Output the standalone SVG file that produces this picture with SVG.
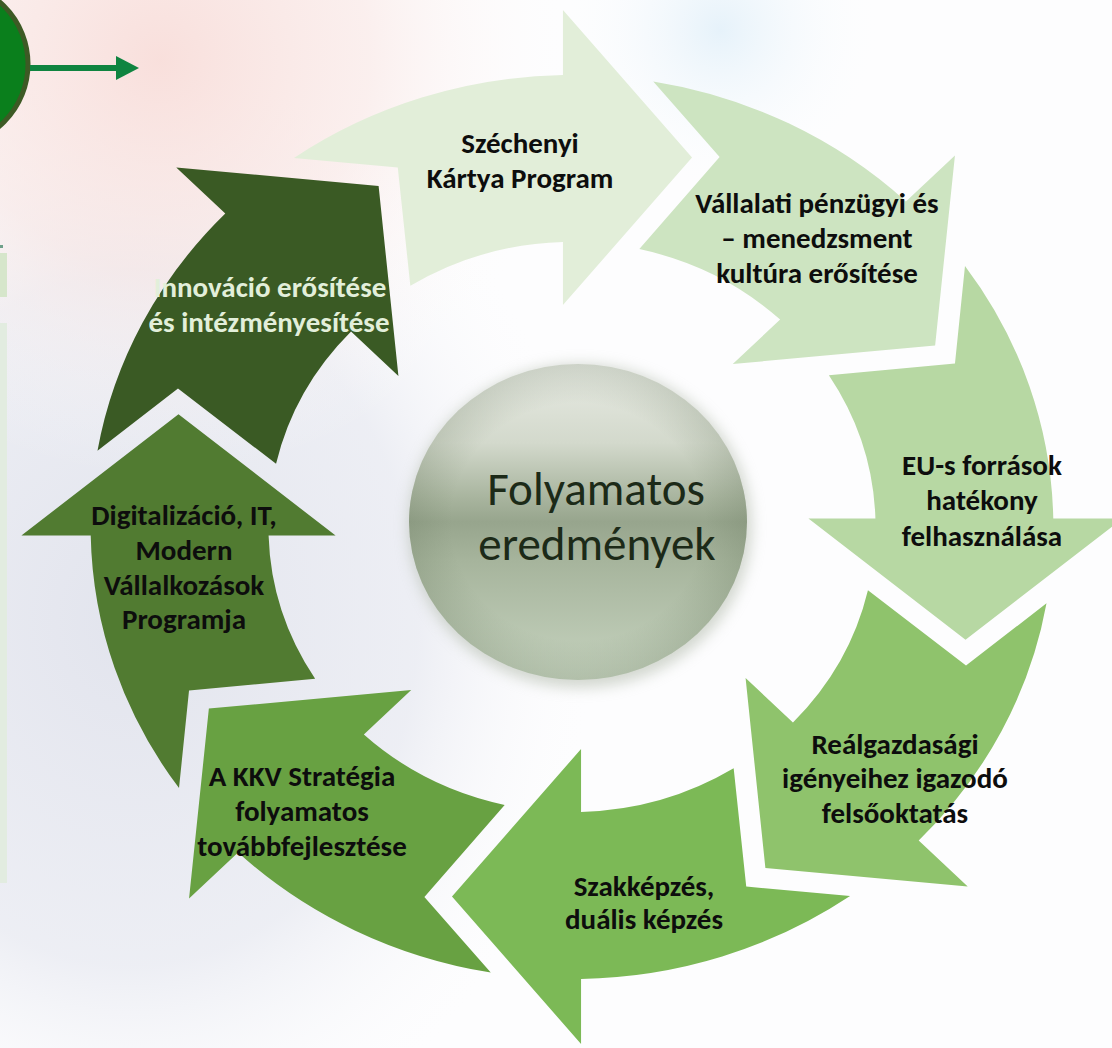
<svg xmlns="http://www.w3.org/2000/svg" xmlns:xlink="http://www.w3.org/1999/xlink" width="1112" height="1048" viewBox="0 0 1112 1048">
  <defs>
    <style>
      .lbl { font-family: Carlito, Calibri, Lato, "Liberation Sans", sans-serif; font-weight: 700; font-size: 29px; fill: #0d0d0d; text-anchor: middle; }
      .lbl-light { fill: #e2efda; }
      .center-txt { font-family: Carlito, Calibri, Lato, "Liberation Sans", sans-serif; font-weight: 400; font-size: 47px; fill: #1c2a18; text-anchor: middle; }
    </style>
    <path id="arrowShape" d="M -261.1 -369.0 A 452 452 0 0 1 -8.5 -451.9 L -8.5 -517 L 112.7 -369.5 L -8.5 -222 L -8.5 -284.9 A 285 285 0 0 0 -151.8 -241.2 L -163.6 -359.6 Z"/>
    <radialGradient id="bgPink" cx="160" cy="60" r="420" gradientUnits="userSpaceOnUse">
      <stop offset="0" stop-color="#f8dcd8" stop-opacity="0.9"/>
      <stop offset="0.5" stop-color="#f9e4e1" stop-opacity="0.55"/>
      <stop offset="1" stop-color="#ffffff" stop-opacity="0"/>
    </radialGradient>
    <radialGradient id="bgLav" cx="130" cy="620" r="480" gradientUnits="userSpaceOnUse" gradientTransform="translate(130 620) scale(1 1.2) translate(-130 -620)">
      <stop offset="0" stop-color="#e2e4ed" stop-opacity="1"/>
      <stop offset="0.6" stop-color="#e6e8f0" stop-opacity="0.7"/>
      <stop offset="1" stop-color="#ffffff" stop-opacity="0"/>
    </radialGradient>
    <radialGradient id="bgBlue" cx="720" cy="30" r="170" gradientUnits="userSpaceOnUse">
      <stop offset="0" stop-color="#e6f2fa" stop-opacity="1"/>
      <stop offset="1" stop-color="#ffffff" stop-opacity="0"/>
    </radialGradient>
    <linearGradient id="ballGrad" x1="0" y1="0" x2="0" y2="1">
      <stop offset="0" stop-color="#e8ebe4"/>
      <stop offset="0.25" stop-color="#d3d9cc"/>
      <stop offset="0.42" stop-color="#a9b59f"/>
      <stop offset="0.5" stop-color="#97a58d"/>
      <stop offset="0.62" stop-color="#a6b49c"/>
      <stop offset="1" stop-color="#c6d3bf"/>
    </linearGradient>
    <radialGradient id="ballEdge" cx="0.5" cy="0.5" r="0.5">
      <stop offset="0.75" stop-color="#5f7055" stop-opacity="0"/>
      <stop offset="1" stop-color="#5f7055" stop-opacity="0.2"/>
    </radialGradient>
    <filter id="soft" x="-20%" y="-20%" width="140%" height="140%">
      <feGaussianBlur stdDeviation="7"/>
    </filter>
  </defs>

  <!-- background -->
  <rect x="0" y="0" width="1112" height="1048" fill="#fdfdfe"/>
  <rect x="0" y="0" width="1112" height="1048" fill="url(#bgLav)"/>
  <rect x="0" y="0" width="1112" height="1048" fill="url(#bgPink)"/>
  <rect x="0" y="0" width="1112" height="1048" fill="url(#bgBlue)"/>
  <rect x="0" y="253" width="7" height="44" fill="#d6e6cb"/>
  <rect x="0" y="323" width="7" height="560" fill="#e2ece0"/>
  <rect x="0" y="245" width="3" height="3" fill="#6fa08a"/>

  <!-- top-left circle -->
  <g id="node-start">
    <circle cx="-54" cy="64" r="82" fill="#0a7f1c" stroke="#3d5a25" stroke-width="5"/>
  </g>

  <g id="connectors">
    <line x1="30" y1="68" x2="118" y2="68" stroke="#0f8440" stroke-width="6"/>
    <polygon points="116,56 139,68 116,80" fill="#0f8440"/>
  </g>

  <!-- central circle -->
  <g id="node-center">
    <ellipse cx="580" cy="526" rx="172" ry="162" fill="#a9b2a2" opacity="0.5" filter="url(#soft)"/>
    <ellipse cx="578" cy="522" rx="169" ry="158" fill="url(#ballGrad)"/>
    <ellipse cx="578" cy="522" rx="169" ry="158" fill="url(#ballEdge)"/>
    <text class="center-txt" x="596" y="505">Folyamatos</text>
    <text class="center-txt" x="597" y="560">eredmények</text>
  </g>

  <g id="node-szechenyi">
    <use xlink:href="#arrowShape" transform="translate(572 527) scale(1.065 1) rotate(0)" fill="#e2eed9"/>
    <text class="lbl" x="520" y="153">Széchenyi</text>
    <text class="lbl" x="520" y="188">Kártya Program</text>
  </g>

  <g id="node-vallalati">
    <use xlink:href="#arrowShape" transform="translate(572 527) scale(1.065 1) rotate(45)" fill="#cde4c1"/>
    <text class="lbl" x="817" y="213">Vállalati pénzügyi és</text>
    <text class="lbl" x="817" y="248">– menedzsment</text>
    <text class="lbl" x="817" y="283">kultúra erősítése</text>
  </g>

  <g id="node-eu">
    <use xlink:href="#arrowShape" transform="translate(572 527) scale(1.065 1) rotate(90)" fill="#b7d8a3"/>
    <text class="lbl" x="982" y="475">EU-s források</text>
    <text class="lbl" x="982" y="510">hatékony</text>
    <text class="lbl" x="982" y="546">felhasználása</text>
  </g>

  <g id="node-realgazdasagi">
    <use xlink:href="#arrowShape" transform="translate(572 527) scale(1.065 1) rotate(135)" fill="#8fc36c"/>
    <text class="lbl" x="895" y="754">Reálgazdasági</text>
    <text class="lbl" x="895" y="788">igényeihez igazodó</text>
    <text class="lbl" x="895" y="823">felsőoktatás</text>
  </g>

  <g id="node-szakkepzes">
    <use xlink:href="#arrowShape" transform="translate(572 527) scale(1.065 1) rotate(180)" fill="#7cb956"/>
    <text class="lbl" x="644" y="896">Szakképzés,</text>
    <text class="lbl" x="644" y="929">duális képzés</text>
  </g>

  <g id="node-kkv">
    <use xlink:href="#arrowShape" transform="translate(572 527) scale(1.065 1) rotate(225)" fill="#68a142"/>
    <text class="lbl" x="302" y="786">A KKV Stratégia</text>
    <text class="lbl" x="302" y="821">folyamatos</text>
    <text class="lbl" x="302" y="856">továbbfejlesztése</text>
  </g>

  <g id="node-digitalizacio">
    <use xlink:href="#arrowShape" transform="translate(572 527) scale(1.065 1) rotate(270)" fill="#517b31"/>
    <text class="lbl" x="184" y="525">Digitalizáció, IT,</text>
    <text class="lbl" x="184" y="560">Modern</text>
    <text class="lbl" x="184" y="595">Vállalkozások</text>
    <text class="lbl" x="184" y="629">Programja</text>
  </g>

  <g id="node-innovacio">
    <use xlink:href="#arrowShape" transform="translate(572 527) scale(1.065 1) rotate(315)" fill="#3a5a24"/>
    <text class="lbl lbl-light" x="270" y="297">Innováció erősítése</text>
    <text class="lbl lbl-light" x="269" y="332">és intézményesítése</text>
  </g>
</svg>
